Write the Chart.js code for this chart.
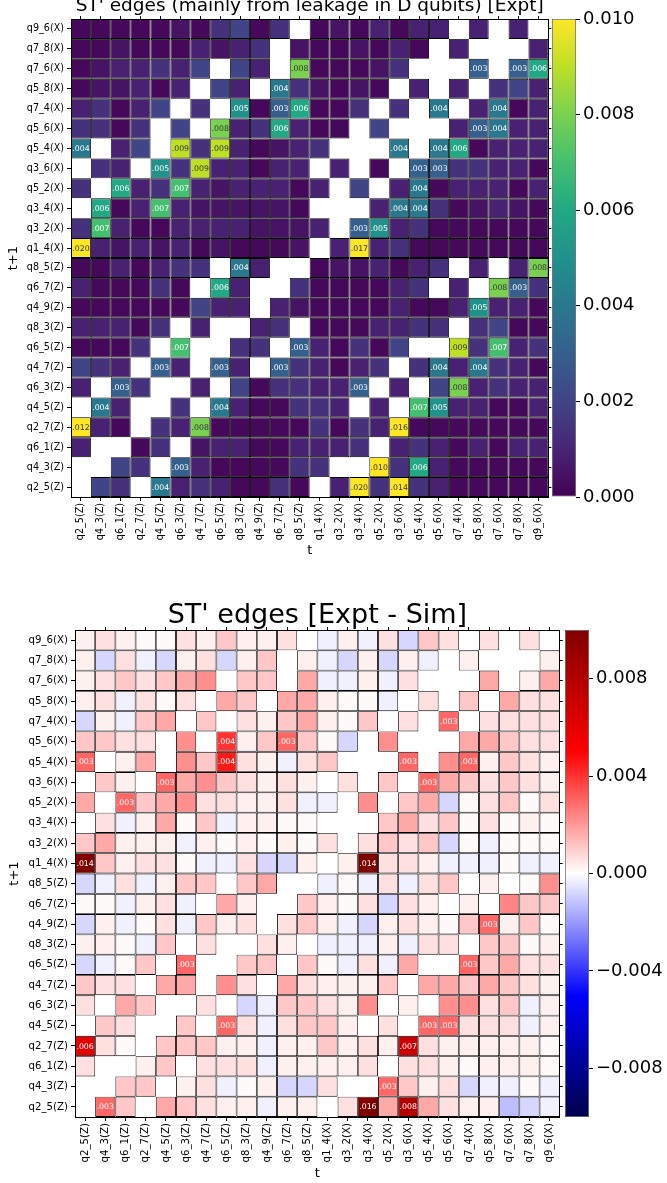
<!DOCTYPE html>
<html>
<head>
<meta charset="utf-8">
<script src="https://cdn.jsdelivr.net/npm/chart.js@4.4.1/dist/chart.umd.min.js"></script>
<style>
  body { margin: 0; background: #fff; width: 667px; height: 1183px; position: relative; overflow: hidden; }
  canvas { position: absolute; }
</style>
</head>
<body>
<canvas id="expt-heat" width="552" height="560" style="left:0;top:0"></canvas>
<canvas id="expt-bar" width="115" height="560" style="left:552px;top:0"></canvas>
<canvas id="diff-heat" width="564" height="593" style="left:0;top:590px"></canvas>
<canvas id="diff-bar" width="102" height="593" style="left:565px;top:590px"></canvas>
<script>
const rowLabels = ['q9_6(X)', 'q7_8(X)', 'q7_6(X)', 'q5_8(X)', 'q7_4(X)', 'q5_6(X)', 'q5_4(X)', 'q3_6(X)',
    'q5_2(X)', 'q3_4(X)', 'q3_2(X)', 'q1_4(X)', 'q8_5(Z)', 'q6_7(Z)', 'q4_9(Z)', 'q8_3(Z)',
    'q6_5(Z)', 'q4_7(Z)', 'q6_3(Z)', 'q4_5(Z)', 'q2_7(Z)', 'q6_1(Z)', 'q4_3(Z)', 'q2_5(Z)'];
const colLabels = ['q2_5(Z)', 'q4_3(Z)', 'q6_1(Z)', 'q2_7(Z)', 'q4_5(Z)', 'q6_3(Z)', 'q4_7(Z)', 'q6_5(Z)',
    'q8_3(Z)', 'q4_9(Z)', 'q6_7(Z)', 'q8_5(Z)', 'q1_4(X)', 'q3_2(X)', 'q3_4(X)', 'q5_2(X)',
    'q3_6(X)', 'q5_4(X)', 'q5_6(X)', 'q7_4(X)', 'q5_8(X)', 'q7_6(X)', 'q7_8(X)', 'q9_6(X)'];

// experimental ST' edge weights, one row per t+1 label (null = no edge)
const exptValues = [
    [.0002,.0002,.0002,.0002,.0002,.0005,.0002,.0014,.002,.0002,.0014,null,.0002,.0005,.0002,.0009,.0002,.0009,.0009,null,.0009,null,.0009,null],
    [.0002,.0002,.0005,.0002,.0002,.0002,.0009,.0005,.0009,.0014,null,.0005,.0002,.0002,.0005,.0002,.0009,.0002,null,.0009,null,null,null,.0009],
    [.0002,.0005,.0009,.0009,.0014,.0009,.002,null,.002,.0009,null,.008,.0002,.0002,.0002,.0005,.0014,null,null,null,.003,null,.003,.006],
    [.0002,.0005,.0005,.0009,.0002,.0009,null,.002,.0009,null,.004,.0014,.0005,.0002,.0005,.0002,null,.0009,null,.0009,null,.0014,.002,.0009],
    [.0009,.0014,.0002,.0009,.002,null,.0014,null,.005,.0002,.003,.006,.0002,.0002,.0014,null,.0014,null,.004,null,.0009,.004,.0002,.0009],
    [.0014,.0014,.0002,.0014,null,.002,null,.008,.0009,.0014,.006,.0009,.0002,.0002,null,.002,null,null,null,.0009,.003,.004,.0009,.0009],
    [.004,null,.0009,.002,null,.009,.0014,.009,.0009,.0002,.0005,.0009,.0014,null,null,null,.004,null,.004,.006,.0002,.0009,.0009,.0009],
    [null,.0014,.0009,null,.005,.0014,.009,.0009,.0009,.0002,.0009,.0009,null,.0009,null,.0002,null,.003,.003,.0014,.0014,.0009,.0009,.0002],
    [.0014,null,.006,.0009,.0014,.007,.0009,.0005,.0009,.0009,.0009,.0002,.0009,null,.002,null,.0009,.004,.0002,.0009,.0009,.0009,.0002,.0009],
    [null,.006,.0002,.0009,.007,.0009,.0005,.0005,.0005,.0005,.0005,.0002,null,null,null,.0009,.004,.004,.0014,.0002,.0005,.0009,.0005,.0002],
    [.0014,.007,.0009,.0002,.0002,.0009,.0009,.0009,.0009,.0005,.0005,.0005,.0009,null,.003,.005,.0009,.0014,.0002,.0002,.0002,.0002,.0002,.0002],
    [.020,.0009,.0005,.0009,.0005,.0009,.0002,.0005,.0002,.0002,.0002,.0005,null,.0009,.017,.0009,.0014,.0002,.0002,.0002,.0002,.0002,.0002,.0002],
    [.0002,.0002,.0009,.0002,.0009,.0014,.0014,null,.004,.0009,null,null,.0002,.0005,.0005,.0009,.0002,.0009,.0014,null,.0009,null,.0009,.008],
    [.0009,.0002,.0002,.0002,.0014,.0002,null,.006,.0009,null,null,.0014,.0002,.0002,.0002,.0002,.0009,.0014,null,.0009,null,.008,.003,.0014],
    [.0002,.0002,.0002,.0002,.0002,.0002,.002,.0009,.0009,null,.0009,.0005,.0002,.0002,.0002,.0002,.0009,.0002,.0002,.0009,.005,.0009,.0009,.0002],
    [.0009,.0009,.0009,.0002,.0014,null,.0009,null,null,.0009,.0014,null,.0002,.0002,.0002,.0009,.0009,.0014,.0014,null,.0014,.002,.0002,.0002],
    [.0002,.0002,.0002,.0014,null,.007,null,null,.0014,.0014,null,.003,.0009,.0002,.0014,.0002,.002,null,null,.009,.0014,.007,.0009,.0014],
    [.002,.0014,.0009,null,.003,.0009,null,.003,.0009,null,.003,.0014,.0009,.0002,.0009,.0014,null,.0014,.004,.0009,.004,.0014,.0009,.0002],
    [.0009,null,.003,.0014,null,null,.0009,null,.002,.0002,.0014,.0014,.0009,.0009,.003,null,.0009,null,.002,.008,.0009,.0014,.0009,.0009],
    [null,.004,.0009,null,null,.0014,null,.004,.0009,.0002,.0002,.0014,.0014,.0009,null,.0009,null,.007,.005,.0009,.0009,.0002,.0002,.0009],
    [.012,.0009,.0002,null,.0014,.0009,.008,.0002,.0002,.0002,.0002,.0002,.0014,.0002,.0014,.0009,.016,.0002,.0002,.0002,.0002,.0002,.0002,.0002],
    [.0009,null,null,.0002,.0014,null,.0005,.0009,.0009,.0002,.0002,.0009,.0009,.0009,.0014,null,.0009,.0014,.0009,.0002,.0009,.0002,.0009,.0009],
    [null,null,.002,.0014,null,.003,.0009,.0002,.0002,.0002,.0002,.0014,.0014,null,null,.010,.0014,.006,.0009,.0002,.0002,.0002,.0002,.0002],
    [null,.002,.0014,null,.004,.0009,.0014,.0009,.0002,.0002,.0014,.0002,null,.0009,.020,.0014,.014,.0014,.0009,.0002,.0002,.0002,.0002,.0002]
];

// experiment minus simulation, same layout
const diffValues = [
    [.0003,.0006,.0003,.0001,.0001,.0006,.0003,.0011,.0003,.0003,.0006,null,-.0003,.0003,-.0003,.0006,-.0008,.0011,.0006,null,.0006,null,.0006,null],
    [.0003,-.0008,.0006,-.0003,-.0008,.0003,.0006,-.0008,.0003,.0011,null,.0003,-.0003,-.0008,.0003,-.0008,.0003,-.0003,null,.0003,null,null,null,.0003],
    [.0003,.0006,.0011,.0006,.0011,.0017,.0022,null,.0011,.0011,null,.0017,-.0003,-.0003,.0003,-.0003,.0006,null,null,null,.0017,null,.0003,.0017],
    [.0003,.0006,-.0003,.0006,.0001,.0006,null,.0017,.0011,null,.0017,.0017,.0003,.0001,.0001,-.0003,null,.0006,null,.0011,null,.0017,.0006,.0006],
    [-.0008,.0003,-.0003,.0011,.0017,null,.0011,null,.0006,.0003,.0011,.0017,.0003,.0001,.0011,null,.0006,null,.003,null,.0006,.0006,.0006,.0006],
    [.0011,.0011,.0006,.0006,null,.0022,null,.004,.0003,.0011,.003,.0011,.0001,-.0008,null,.0022,null,null,null,.0017,.0017,.0011,.0006,.0006],
    [.003,null,.0003,.0017,null,.0022,.0011,.0045,.0006,.0003,-.0003,.0006,.0011,null,null,null,.003,null,.0022,.003,.0003,.0011,.0006,.0003],
    [null,.0011,.0003,null,.003,.0017,.0022,.0011,.0006,.0003,.0006,.0003,null,.0006,null,.0011,null,.003,.0017,.0011,.0006,.0011,.0006,.0003],
    [.0017,null,.003,.0011,.0017,.0022,.0006,.0006,.0003,.0003,.0006,-.0003,-.0003,null,.0022,null,.0011,.0017,-.0008,.0001,.0006,.0011,.0001,.0006],
    [null,.0006,-.0003,.0003,.0017,.0001,.0011,-.0003,.0003,.0003,.0001,.0001,null,null,null,.0011,.0017,.0006,.0011,.0001,.0006,.0001,.0003,.0001],
    [.0011,.0017,.0003,.0003,.0003,-.0003,.0003,.0001,.0003,.0001,.0003,.0001,.0006,null,.0006,.0011,.0006,.0011,-.0008,.0001,-.0003,.0001,.0001,.0001],
    [.014,.0011,.0003,.0006,.0006,.0001,-.0003,-.0003,.0006,-.0008,-.0008,.0003,null,.0003,.014,.0006,.0006,.0003,-.0003,-.0003,-.0003,.0001,-.0003,-.0003],
    [-.0008,-.0003,.0006,-.0003,.0003,.0011,.0011,null,.0011,.0017,null,null,-.0003,.0001,-.0003,.0006,-.0003,.0006,.0011,null,.0003,null,.0001,.0022],
    [.0001,.0001,-.0003,.0003,.0006,-.0003,null,.0017,.0003,null,null,.0011,.0003,.0001,.0006,-.0008,.0006,.0003,null,.0003,null,.0024,.0011,.0011],
    [-.0008,.0003,-.0003,.0001,.0006,-.0003,.0011,.0003,.0006,null,.0006,.0011,.0003,-.0003,-.0008,.0003,.0006,.0003,.0001,.0011,.003,.0003,.0011,.0001],
    [.0003,.0003,.0001,-.0003,.0011,null,.0006,null,null,.0006,.0003,null,-.0003,-.0003,-.0003,.0003,-.0003,.0006,.0006,null,.0011,.0011,.0001,.0003],
    [-.0008,-.0003,.0001,.0011,null,.003,null,null,.0011,.0011,null,.0011,.0001,-.0003,.0006,-.0003,.0017,null,null,.003,.0011,.0017,.0006,.0006],
    [.0011,.0006,.0006,null,.0017,.0017,null,.0022,.0006,null,.0017,.0006,.0003,.0003,.0003,.0011,null,.0017,.0017,.0011,.0017,.0011,.0006,.0003],
    [.0006,null,.0017,.0011,null,null,.0006,null,-.0008,-.0003,.0011,.0011,.0006,.0003,.0022,null,.0003,null,.0022,.0022,.0006,.0011,-.0003,.0003],
    [null,.0011,.0006,null,null,.0011,null,.003,.0006,-.0003,.0006,.0011,.0011,.0003,null,.0006,null,.003,.003,.0006,.0006,.0006,-.0003,.0003],
    [.006,.0006,.0001,null,.0011,.0011,.0011,.0003,.0003,-.0003,.0003,.0003,.0011,.0003,.0006,.0003,.007,.0006,.0003,.0003,.0003,.0003,.0003,.0001],
    [.0006,null,null,.0003,.0011,null,.0006,.0006,.0006,-.0003,.0003,.0003,.0003,.0003,.0006,null,.0006,.0006,.0003,.0001,.0003,.0003,.0003,.0001],
    [null,null,.0011,.0011,null,.0003,.0006,-.0003,.0001,.0003,-.0008,-.0008,.0006,null,null,.003,.0011,.0003,.0006,-.0008,-.0003,-.0003,.0001,-.0003],
    [null,.003,.0011,null,.0017,.0011,.0006,.0003,.0003,-.0003,.0003,.0003,null,.0006,.016,.0017,.008,.0017,.0006,.0003,.0003,-.0013,-.0008,-.0003]
];

const exptTicks = [0, 0.002, 0.004, 0.006, 0.008, 0.010];
const diffTicks = [-0.008, -0.004, 0, 0.004, 0.008];

const viridis = ['#440154', '#482475', '#414487', '#355f8d', '#2a788e', '#21918c',
    '#22a884', '#44bf70', '#7ad151', '#bddf26', '#fde725'];
const seismic = ['#00004c', '#0000ff', '#ffffff', '#ff0000', '#800000'];

Chart.defaults.font.family = "'DejaVu Sans', sans-serif";
Chart.defaults.color = '#000';

const hexToRgb = (h) => [1, 3, 5].map(i => parseInt(h.slice(i, i + 2), 16));

const colormap = (stops, t) => {
    t = Math.min(1, Math.max(0, t));
    const pos = t * (stops.length - 1);
    const i = Math.min(Math.floor(pos), stops.length - 2);
    const f = pos - i;
    const a = hexToRgb(stops[i]);
    const b = hexToRgb(stops[i + 1]);
    const c = a.map((v, k) => Math.round(v + (b[k] - v) * f));
    return `rgb(${c[0]}, ${c[1]}, ${c[2]})`;
};

const fmtCell = (v) => v.toFixed(3).replace(/^0/, '');
const fmtTick = (v) => (v < 0 ? '\u2212' + Math.abs(v).toFixed(3) : v.toFixed(3));

const createHeatmap = (id, values, cfg) => {
    const ctx = document.getElementById(id).getContext('2d');
    const datasets = values.map((row, r) => ({
        label: rowLabels[r],
        data: row.map(v => (v === null ? null : [r - 0.5, r + 0.5])),
        backgroundColor: row.map(v => (v === null ? 'rgba(0,0,0,0)' : cfg.color(v))),
        borderColor: '#000',
        borderWidth: 0.9,
        borderSkipped: false,
        inflateAmount: 0,
        grouped: false,
        barPercentage: 1,
        categoryPercentage: 1
    }));

    const cellLabels = {
        id: 'cellLabels',
        afterDatasetsDraw(chart) {
            const c = chart.ctx;
            c.save();
            c.font = `${cfg.cellFont}px 'DejaVu Sans', sans-serif`;
            c.textAlign = 'center';
            c.textBaseline = 'middle';
            values.forEach((row, r) => {
                const meta = chart.getDatasetMeta(r);
                row.forEach((v, k) => {
                    if (v === null || Math.abs(v) < 0.0025) return;
                    const pt = meta.data[k].getCenterPoint();
                    c.fillStyle = cfg.textColor(v);
                    c.fillText(fmtCell(v), pt.x, pt.y + 0.5);
                });
            });
            c.restore();
        }
    };

    const rowTicks = (scale) => { scale.ticks = rowLabels.map((_, i) => ({ value: i })); };
    const tickFont = { size: cfg.tickFont };
    const border = { display: true, color: '#000', width: 1, z: 1 };

    new Chart(ctx, {
        type: 'bar',
        data: { labels: colLabels, datasets },
        plugins: [cellLabels],
        options: {
            responsive: false,
            animation: false,
            events: [],
            layout: { padding: 0 },
            plugins: { legend: { display: false }, tooltip: { enabled: false } },
            scales: {
                x: {
                    type: 'category',
                    offset: true,
                    afterFit: (s) => { s.height = cfg.xHeight; },
                    ticks: { autoSkip: false, minRotation: 90, maxRotation: 90, font: tickFont, padding: 2 },
                    grid: { offset: false, drawOnChartArea: false, tickLength: 4, color: '#000' },
                    border,
                    title: { display: true, text: 't', font: { size: 13 }, padding: { top: 0, bottom: 2 } }
                },
                x2: {
                    type: 'category',
                    labels: colLabels,
                    position: 'top',
                    offset: true,
                    afterFit: (s) => { s.height = cfg.topHeight; },
                    ticks: { display: false },
                    grid: { offset: false, drawOnChartArea: false, tickLength: 3, color: '#000' },
                    border,
                    title: {
                        display: true, text: cfg.title,
                        font: { size: cfg.titleSize, lineHeight: 1 },
                        padding: { top: cfg.titlePad, bottom: 0 }
                    }
                },
                y: {
                    type: 'linear',
                    min: -0.5,
                    max: 23.5,
                    reverse: true,
                    afterBuildTicks: rowTicks,
                    afterFit: (s) => { s.width = cfg.yWidth; },
                    ticks: { autoSkip: false, font: tickFont, padding: 3, callback: (v) => rowLabels[v] },
                    grid: { drawOnChartArea: false, tickLength: 4, color: '#000' },
                    border,
                    title: { display: true, text: 't+1', font: { size: 13 }, padding: { top: cfg.yTitlePad, bottom: 0 } }
                },
                y2: {
                    type: 'linear',
                    position: 'right',
                    min: -0.5,
                    max: 23.5,
                    reverse: true,
                    afterBuildTicks: rowTicks,
                    afterFit: (s) => { s.width = 3; },
                    ticks: { display: false },
                    grid: { drawOnChartArea: false, tickLength: 3, color: '#000' },
                    border
                }
            }
        }
    });
};

const createColorbar = (id, stops, min, max, ticks, pad, axisWidth) => {
    const ctx = document.getElementById(id).getContext('2d');
    new Chart(ctx, {
        type: 'bar',
        data: {
            labels: [''],
            datasets: [{
                data: [[min, max]],
                backgroundColor: (c) => {
                    const area = c.chart.chartArea;
                    if (!area) return 'rgba(0,0,0,0)';
                    const g = c.chart.ctx.createLinearGradient(0, area.bottom, 0, area.top);
                    stops.forEach((col, i) => g.addColorStop(i / (stops.length - 1), col));
                    return g;
                },
                borderColor: '#555',
                borderWidth: 0.8,
                borderSkipped: false,
                inflateAmount: 0,
                barPercentage: 1,
                categoryPercentage: 1
            }]
        },
        options: {
            responsive: false,
            animation: false,
            events: [],
            layout: { padding: { top: pad.top, bottom: pad.bottom, left: 0, right: 0 } },
            plugins: { legend: { display: false }, tooltip: { enabled: false } },
            scales: {
                x: { display: false },
                y: {
                    position: 'right',
                    min,
                    max,
                    afterBuildTicks: (s) => { s.ticks = ticks.map(v => ({ value: v })); },
                    afterFit: (s) => { s.width = axisWidth; },
                    ticks: { font: { size: 18 }, padding: 3, callback: fmtTick },
                    grid: { drawOnChartArea: false, tickLength: 4, color: '#000' },
                    border: { display: false }
                }
            }
        }
    });
};

createHeatmap('expt-heat', exptValues, {
    color: (v) => colormap(viridis, v / 0.01),
    textColor: (v) => (v >= 0.0075 ? '#333' : '#fff'),
    title: "ST' edges (mainly from leakage in D qubits) [Expt]",
    titleSize: 18.5,
    titlePad: -2.6,
    topHeight: 19,
    xHeight: 63,
    yWidth: 71,
    yTitlePad: 5.7,
    tickFont: 9.6,
    cellFont: 7.8
});
createColorbar('expt-bar', viridis, 0, 0.01, exptTicks, { top: 19, bottom: 63 }, 91);

createHeatmap('diff-heat', diffValues, {
    color: (v) => colormap(seismic, (v + 0.01) / 0.02),
    textColor: () => '#fff',
    title: "ST' edges [Expt - Sim]",
    titleSize: 27,
    titlePad: 12.2,
    topHeight: 40,
    xHeight: 66,
    yWidth: 75,
    yTitlePad: 6.7,
    tickFont: 10.2,
    cellFont: 7.8
});
createColorbar('diff-bar', seismic, -0.01, 0.01, diffTicks, { top: 40, bottom: 66 }, 78);
</script>
</body>
</html>
